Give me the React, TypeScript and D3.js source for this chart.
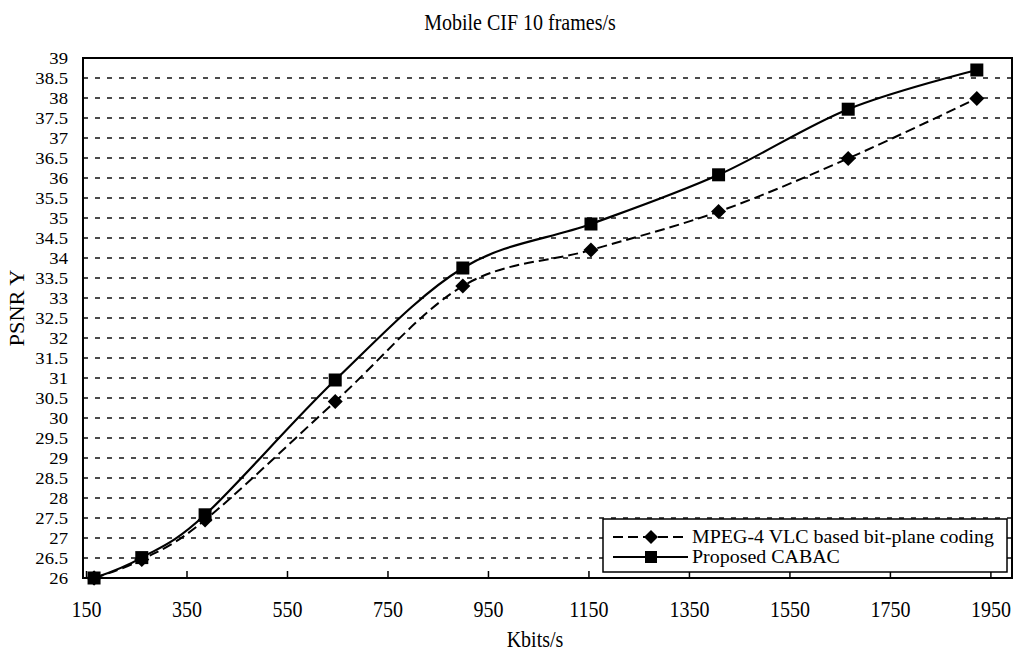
import React from 'react';
import * as d3 from 'd3';

const kbits = [165, 260, 386, 645, 899, 1154, 1408, 1666, 1922];
const mpeg4 = [26.0, 26.46, 27.45, 30.41, 33.3, 34.2, 35.16, 36.49, 37.99];
const cabac = [26.0, 26.51, 27.58, 30.95, 33.75, 34.85, 36.08, 37.72, 38.7];
const xTickValues = [150, 350, 550, 750, 950, 1150, 1350, 1550, 1750, 1950];
const yTickValues = d3.range(0, 27).map((i) => 26 + i * 0.5);
const seriesNames = ['MPEG-4 VLC based bit-plane coding', 'Proposed CABAC'];
const titleText = 'Mobile CIF 10 frames/s';
const xTitle = 'Kbits/s';
const yTitle = 'PSNR Y';

const FONT = '"Liberation Serif", "Times New Roman", serif';

function StretchText(props: any) {
  const { x, y, children, anchor = 'middle', size = 20, rotate = 0, baseline = 'auto', sx = 1, sy = 1 } = props;
  const tr = rotate
    ? `translate(${x},${y}) rotate(${rotate}) scale(${sx},${sy})`
    : `translate(${x},${y}) scale(${sx},${sy})`;
  return (
    <text
      transform={tr}
      textAnchor={anchor}
      dominantBaseline={baseline}
      fontFamily={FONT}
      fontSize={size}
      fill="#000"
    >
      {children}
    </text>
  );
}

const diamondPath = (cx: number, cy: number, r: number) =>
  `M${cx},${cy - r}L${cx + r},${cy}L${cx},${cy + r}L${cx - r},${cy}Z`;

export default function App() {
  const W = 1015;
  const H = 655;
  const L = 83, R = 1012, T = 58, B = 578;
  const x = d3.scaleLinear().domain([143, 1992]).range([L, R]);
  const y = d3.scaleLinear().domain([26, 39]).range([B, T]);

  const mk = (vals: number[]) =>
    d3
      .line<number>()
      .x((_, i) => x(kbits[i]))
      .y((d) => y(d))
      .curve(d3.curveCatmullRom.alpha(0))(vals) || '';

  const lx0 = 613, lx1 = 688, lm = 651;
  const ly1 = 537, ly2 = 557;

  return (
    <svg
      width={W}
      height={H}
      style={{ position: 'absolute', left: 0, top: 0, background: '#fff' }}
    >
      <rect x={0} y={0} width={W} height={H} fill="#fff" />
      {/* gridlines */}
      {yTickValues.slice(1, -1).map((v) => (
        <line
          key={v}
          x1={L}
          x2={R}
          y1={y(v)}
          y2={y(v)}
          stroke="#111"
          strokeWidth={1.6}
          strokeDasharray="5,7"
        />
      ))}
      {/* y tick labels */}
      {yTickValues.map((v) => (
        <StretchText key={v} x={68} y={y(v)} anchor="end" baseline="central" size={17} sx={1.1}>
          {String(v)}
        </StretchText>
      ))}
      {/* x ticks & labels */}
      {xTickValues.map((v) => (
        <g key={v}>
          <line x1={x(v)} x2={x(v)} y1={B} y2={B - 7} stroke="#000" strokeWidth={1.5} />
          <StretchText x={x(v)} y={610} baseline="central" sy={1.12}>
            {String(v)}
          </StretchText>
        </g>
      ))}
      {/* plot border */}
      <rect x={L} y={T} width={R - L} height={B - T} fill="none" stroke="#000" strokeWidth={2} />
      {/* series lines */}
      <path d={mk(mpeg4)} fill="none" stroke="#000" strokeWidth={2} strokeDasharray="10,5" />
      <path d={mk(cabac)} fill="none" stroke="#000" strokeWidth={2.2} />
      {/* markers */}
      {mpeg4.map((v, i) => (
        <path key={'d' + i} d={diamondPath(x(kbits[i]), y(v), 7.5)} fill="#000" />
      ))}
      {cabac.map((v, i) => (
        <rect
          key={'s' + i}
          x={x(kbits[i]) - 6.5}
          y={y(v) - 6.5}
          width={13}
          height={13}
          fill="#000"
        />
      ))}
      <path d={diamondPath(x(kbits[0]), y(mpeg4[0]), 7.5)} fill="#000" />
      {/* legend */}
      <rect x={603} y={519} width={404} height={53} fill="#fff" stroke="#000" strokeWidth={1.5} />
      <line x1={lx0} x2={lx1} y1={ly1} y2={ly1} stroke="#000" strokeWidth={2} strokeDasharray="10,5" />
      <path d={diamondPath(lm, ly1, 7)} fill="#000" />
      <StretchText x={692} y={ly1} anchor="start" baseline="central" size={19} sx={1.05}>
        {seriesNames[0]}
      </StretchText>
      <line x1={lx0} x2={lx1} y1={ly2} y2={ly2} stroke="#000" strokeWidth={2.2} />
      <rect x={lm - 6} y={ly2 - 6} width={12} height={12} fill="#000" />
      <StretchText x={692} y={ly2} anchor="start" baseline="central" size={19} sx={1.05}>
        {seriesNames[1]}
      </StretchText>
      {/* titles */}
      <StretchText x={520} y={30} sy={1.12}>{titleText}</StretchText>
      <StretchText x={535} y={647} sy={1.12}>{xTitle}</StretchText>
      <StretchText x={24} y={308} rotate={-90} anchor="middle" sx={1.12}>
        {yTitle}
      </StretchText>
    </svg>
  );
}
